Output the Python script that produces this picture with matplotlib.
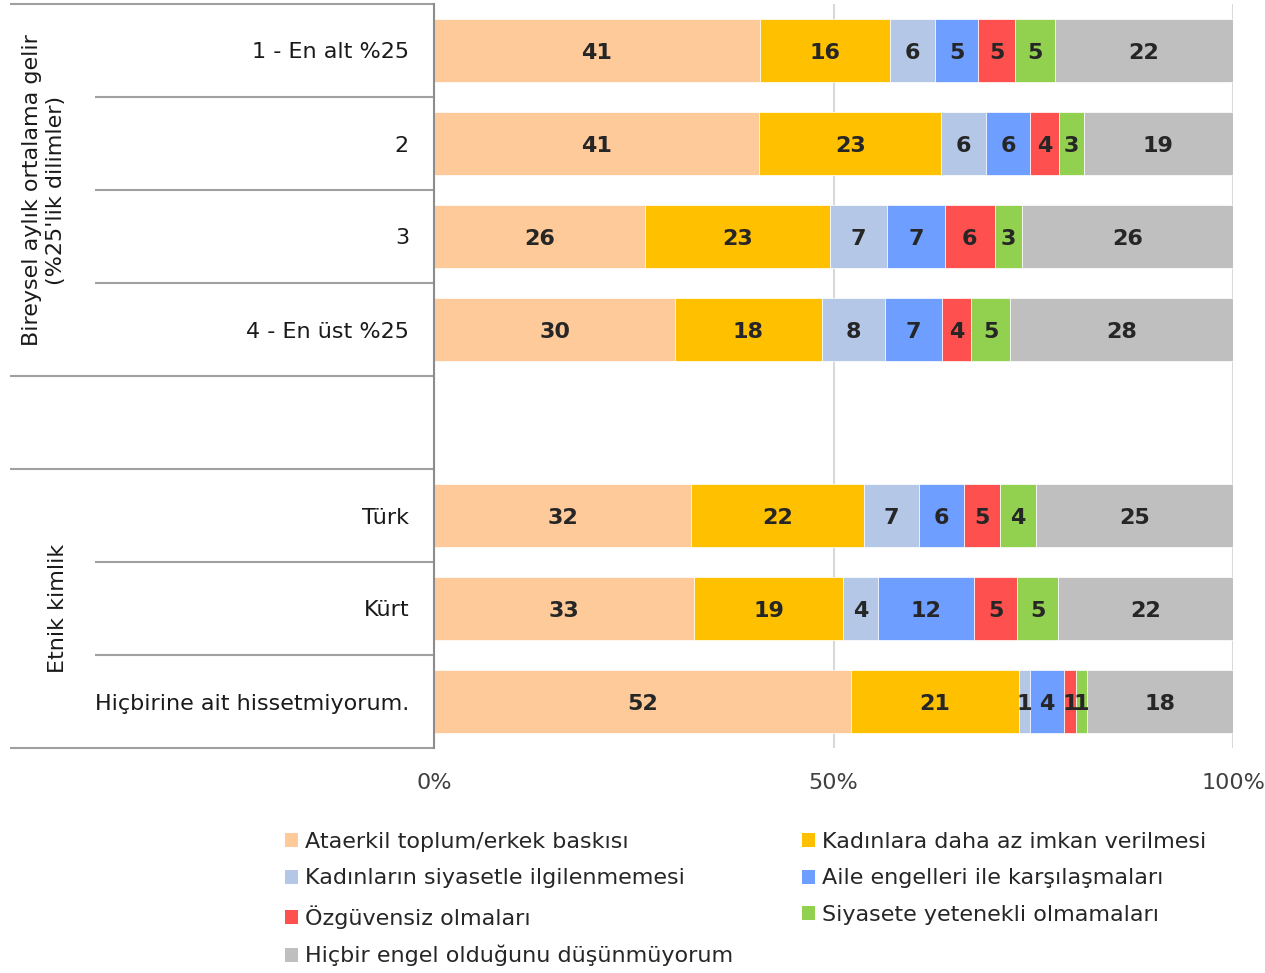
import matplotlib
matplotlib.use("Agg")
import matplotlib.pyplot as plt
from matplotlib.patches import Patch

# Row labels (top to bottom) and the two grouping titles
categories = ["1 - En alt %25", "2", "3", "4 - En üst %25",
              "Türk", "Kürt", "Hiçbirine ait hissetmiyorum."]
group_titles = ["Bireysel aylık ortalama gelir\n(%25'lik dilimler)", "Etnik kimlik"]

series_names = [
    "Ataerkil toplum/erkek baskısı",
    "Kadınlara daha az imkan verilmesi",
    "Kadınların siyasetle ilgilenmemesi",
    "Aile engelleri ile karşılaşmaları",
    "Özgüvensiz olmaları",
    "Siyasete yetenekli olmamaları",
    "Hiçbir engel olduğunu düşünmüyorum",
]

# Percentages per row
ataerkil = [40.8, 40.7, 26.4, 30.2, 32.2, 32.6, 52.2]
imkan    = [16.3, 22.8, 23.1, 18.3, 21.6, 18.6, 21.0]
ilgi     = [5.6, 5.6, 7.2, 7.9, 6.9, 4.4, 1.4]
aile     = [5.4, 5.5, 7.2, 7.2, 5.6, 12.0, 4.3]
ozguven  = [4.6, 3.6, 6.3, 3.6, 4.6, 5.4, 1.4]
yetenek  = [5.0, 3.1, 3.4, 4.9, 4.4, 5.1, 1.4]
engelyok = [22.3, 18.7, 26.4, 27.9, 24.7, 21.9, 18.3]

series_values = [ataerkil, imkan, ilgi, aile, ozguven, yetenek, engelyok]
colors = ["#FFCA99", "#FFC000", "#B4C7E7", "#6E9EFF", "#FF5050", "#92D050", "#BFBFBF"]

# Row positions: income quartiles, an empty slot, then ethnic identity
ypos = [0, 1, 2, 3, 5, 6, 7]

W, H = 1265, 973
fig = plt.figure(figsize=(W / 100, H / 100), dpi=100)
ax = fig.add_axes([434 / W, (H - 748) / H, 799 / W, 744 / H])

left = [0.0] * len(categories)
for name, vals, col in zip(series_names, series_values, colors):
    bars = ax.barh(ypos, vals, left=left, height=0.667, color=col,
                   edgecolor="white", linewidth=0.5, label=name)
    anns = ax.bar_label(bars, fmt="%.0f", label_type="center", color="#262626",
                        fontsize=16, fontweight="bold")
    for a in anns:
        a.xyann = (0, -1.5)
    left = [l + v for l, v in zip(left, vals)]

ax.set_xlim(0, 100)
ax.set_ylim(7.5, -0.5)
ax.set_xticks([0, 50, 100])
ax.set_xticklabels(["0%", "50%", "100%"])
ax.set_yticks(ypos)
ax.set_yticklabels(categories)
ax.tick_params(axis="x", length=0, pad=18, labelsize=16, labelcolor="#404040")
ax.tick_params(axis="y", length=0, pad=18, labelsize=16, labelcolor="#1A1A1A")
ax.xaxis.grid(True, color="#D9D9D9", linewidth=1.5)
ax.set_axisbelow(True)
for s in ["top", "right", "bottom"]:
    ax.spines[s].set_visible(False)
ax.spines["left"].set_color("#8C8C8C")
ax.spines["left"].set_linewidth(1.5)

# Table-like separators on the category side
tr = ax.get_yaxis_transform()
x_outer = (10 - 434) / 799
x_inner = (95 - 434) / 799
for yb in [-0.5, 3.5, 4.5, 7.5]:
    ax.plot([x_outer, 0], [yb, yb], transform=tr, color="#A0A0A0",
            linewidth=1.5, clip_on=False, solid_capstyle="butt")
for yb in [0.5, 1.5, 2.5, 5.5, 6.5]:
    ax.plot([x_inner, 0], [yb, yb], transform=tr, color="#A0A0A0",
            linewidth=1.5, clip_on=False, solid_capstyle="butt")

# Group titles
ax.text((44 - 434) / 799, 1.5, group_titles[0], transform=tr, rotation=90,
        ha="center", va="center", multialignment="center", fontsize=16,
        color="#1A1A1A", linespacing=1.3)
ax.text((58 - 434) / 799, 6.0, group_titles[1], transform=tr, rotation=90,
        ha="center", va="center", fontsize=16, color="#1A1A1A")

# Legend laid out row by row in two columns
handles = [Patch(facecolor=c, edgecolor="none") for c in colors]
order = [0, 2, 4, 6, 1, 3, 5]
fig.legend([handles[i] for i in order], [series_names[i] for i in order],
           loc="upper left", bbox_to_anchor=(285 / W, (H - 832) / H),
           ncol=2, frameon=False, fontsize=16, handlelength=0.6,
           handleheight=0.6, handletextpad=0.3, labelspacing=0.74,
           columnspacing=3.1, borderpad=0, borderaxespad=0,
           labelcolor="#262626")

fig.savefig("out.png", dpi=100)
